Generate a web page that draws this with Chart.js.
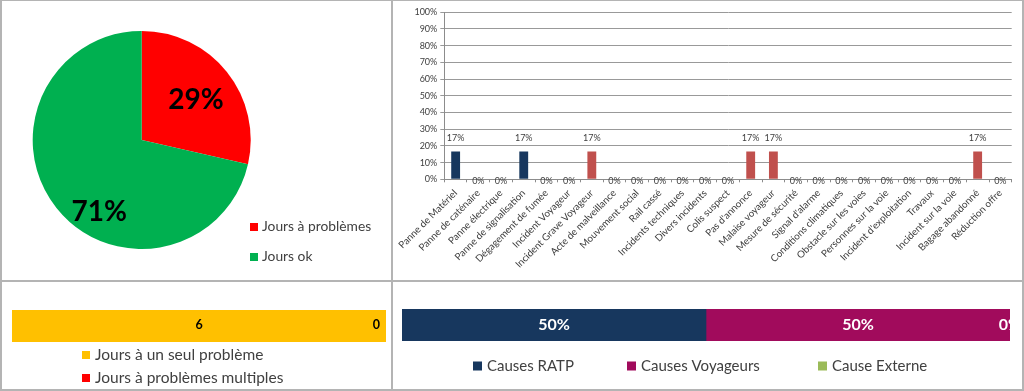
<!DOCTYPE html>
<html>
<head>
<meta charset="utf-8">
<script src="https://cdn.jsdelivr.net/npm/chart.js@4"></script>
<style>
  body { margin: 0; background: #fff; }
  #page { position: relative; width: 1024px; height: 391px; overflow: hidden; font-family: Lato, sans-serif; }
  canvas { position: absolute; }
  .line { position: absolute; background: #b4b4b4; }
</style>
</head>
<body>
<div id="page">
  <canvas id="pieChart" width="390" height="280" style="left:2px;top:0px"></canvas>
  <canvas id="causeChart" width="630" height="280" style="left:393px;top:0px"></canvas>
  <canvas id="daysChart" width="389" height="108" style="left:2px;top:282px"></canvas>
  <canvas id="groupChart" width="629" height="108" style="left:393px;top:282px"></canvas>

  <div class="line" style="left:0;top:0;width:1024px;height:1px"></div>
  <div class="line" style="left:0;top:0;width:2px;height:391px"></div>
  <div class="line" style="left:391px;top:0;width:2px;height:391px"></div>
  <div class="line" style="left:1022px;top:0;width:2px;height:391px"></div>
  <div class="line" style="left:0;top:280px;width:1024px;height:2px"></div>
  <div class="line" style="left:0;top:389px;width:1024px;height:2px"></div>
</div>

<script>
// jours du mois
var pieLabels = ['Jours à problèmes', 'Jours ok'];
var pieDays = [6, 15];
var pieColors = ['#FF0000', '#00B050'];

// répartition par cause (%)
var causeLabels = ['Panne de Matériel', 'Panne de caténaire', 'Panne électrique', 'Panne de signalisation',
  'Dégagement de fumée', 'Incident Voyageur', 'Incident Grave Voyageur', 'Acte de malveillance',
  'Mouvement social', 'Rail cassé', 'Incidents techniques', 'Divers incidents', 'Colis suspect',
  "Pas d'annonce", 'Malaise voyageur', 'Mesure de sécurité', "Signal d'alarme", 'Conditions climatiques',
  'Obstacle sur les voies', 'Personnes sur la voie', "Incident d'exploitation", 'Travaux',
  'Incident sur la voie', 'Bagage abandonné', 'Réduction offre'];
var causeValues = [16.7, 0, 0, 16.7, 0, 0, 16.7, 0, 0, 0, 0, 0, 0, 16.7, 16.7, 0, 0, 0, 0, 0, 0, 0, 0, 16.7, 0];
var causeGroupOf = ['R', 'R', 'R', 'R', 'R', 'V', 'V', 'V', 'R', 'R', 'R', 'R', 'V',
  'V', 'V', 'E', 'V', 'E', 'E', 'V', 'R', 'R', 'E', 'V', 'R'];
var yTicks = [0, 10, 20, 30, 40, 50, 60, 70, 80, 90, 100];

// jours à un seul / plusieurs problèmes
var dayLabels = ['Jours à un seul problème', 'Jours à problèmes multiples'];
var dayCounts = [6, 0];
var dayColors = ['#FFC000', '#FF0000'];

// causes RATP / voyageurs / externe (%)
var groupLabels = ['Causes RATP', 'Causes Voyageurs', 'Cause Externe'];
var groupValues = [50, 50, 0];
var groupColors = ['#17375E', '#A10B5C', '#9BBB59'];

var textColor = '#404040';

// petite légende à carrés, dessinée sur le canvas
var boxLegend = {
  id: 'boxLegend',
  afterDraw: function(chart, args, opts) {
    if (!opts.items) return;
    var ctx = chart.ctx;
    ctx.save();
    ctx.font = opts.font;
    ctx.textBaseline = 'middle';
    ctx.textAlign = 'left';
    opts.items.forEach(function(it) {
      ctx.fillStyle = it.color;
      ctx.fillRect(it.x, it.y - opts.box / 2, opts.box, opts.box);
      ctx.fillStyle = opts.color;
      ctx.fillText(it.text, it.x + opts.box + opts.gap, it.y);
    });
    ctx.restore();
  }
};

function legendItems(labels, colors, xs, ys) {
  return labels.map(function(l, i) {
    return { text: l, color: colors[i], x: xs[i], y: ys[i] };
  });
}

// ---------- camembert ----------
var pieTotal = pieDays.reduce(function(a, b) { return a + b; }, 0);

var pieLabelPlugin = {
  id: 'pieLabels',
  afterDatasetsDraw: function(chart, args, opts) {
    var ctx = chart.ctx;
    var meta = chart.getDatasetMeta(0);
    ctx.save();
    ctx.font = 'bold 28px Lato';
    ctx.fillStyle = '#000';
    ctx.textAlign = 'center';
    ctx.textBaseline = 'middle';
    meta.data.forEach(function(arc, i) {
      var p = arc.getProps(['x', 'y', 'startAngle', 'endAngle', 'outerRadius'], true);
      var a = (p.startAngle + p.endAngle) / 2 + opts.shift[i] * Math.PI / 180;
      var r = p.outerRadius * opts.dist[i];
      var txt = Math.round(pieDays[i] / pieTotal * 100) + '%';
      ctx.fillText(txt, p.x + r * Math.cos(a), p.y + r * Math.sin(a));
    });
    ctx.restore();
  }
};

new Chart(document.getElementById('pieChart'), {
  type: 'pie',
  data: {
    labels: pieLabels,
    datasets: [{ data: pieDays, backgroundColor: pieColors, borderWidth: 0 }]
  },
  options: {
    responsive: false,
    animation: false,
    layout: { padding: { left: 30.7, top: 31, right: 141.3, bottom: 31 } },
    plugins: {
      legend: { display: false },
      tooltip: { enabled: false },
      pieLabels: { dist: [0.62, 0.77], shift: [2, -21] },
      boxLegend: {
        font: '13.8px Lato', color: textColor, box: 8, gap: 4,
        items: legendItems(pieLabels, pieColors, [248, 248], [227, 257])
      }
    }
  },
  plugins: [pieLabelPlugin, boxLegend]
});

// ---------- histogramme des causes ----------
var barValueLabels = {
  id: 'barValueLabels',
  afterDatasetsDraw: function(chart) {
    var ctx = chart.ctx;
    var meta = chart.getDatasetMeta(0);
    ctx.save();
    ctx.font = '9px Lato';
    ctx.fillStyle = textColor;
    ctx.textAlign = 'center';
    meta.data.forEach(function(bar, i) {
      var v = causeValues[i];
      var txt = Math.round(v) + '%';
      if (v > 0) {
        ctx.textBaseline = 'bottom';
        ctx.fillText(txt, bar.x, bar.y - 9);
      } else {
        ctx.textBaseline = 'middle';
        ctx.fillText(txt, bar.x, bar.y + 2);
      }
    });
    ctx.restore();
  }
};

new Chart(document.getElementById('causeChart'), {
  type: 'bar',
  data: {
    labels: causeLabels,
    datasets: [{
      data: causeValues,
      backgroundColor: causeGroupOf.map(function(g) { return g == 'R' ? '#17375E' : '#C0504D'; }),
      borderWidth: 0,
      barPercentage: 0.39,
      categoryPercentage: 1
    }]
  },
  options: {
    responsive: false,
    animation: false,
    layout: { padding: { left: 0, top: 12.3, right: 11.3, bottom: 0 } },
    plugins: { legend: { display: false }, tooltip: { enabled: false } },
    scales: {
      x: {
        grid: { display: true, drawOnChartArea: false, drawTicks: true, tickLength: 3, color: '#8c8c8c', offset: true },
        border: { color: '#8c8c8c' },
        ticks: { autoSkip: false, maxRotation: 45, minRotation: 45, padding: 5, color: textColor, font: { family: 'Lato', size: 9.8 } },
        afterFit: function(scale) {
          scale.height = 100.7;
          scale.paddingLeft = 0;
          scale.paddingRight = 0;
        }
      },
      y: {
        min: 0,
        max: 100,
        afterBuildTicks: function(scale) {
          scale.ticks = yTicks.map(function(v) { return { value: v }; });
        },
        grid: { color: '#999', tickLength: 4 },
        border: { color: '#8c8c8c' },
        ticks: {
          padding: 3,
          color: textColor,
          font: { family: 'Lato', size: 9 },
          callback: function(v) { return v + '%'; }
        },
        afterFit: function(scale) { scale.width = 51.3; }
      }
    }
  },
  plugins: [barValueLabels]
});

// ---------- barres empilées horizontales ----------
var stackLabels = {
  id: 'stackLabels',
  afterDatasetsDraw: function(chart, args, opts) {
    var ctx = chart.ctx;
    var area = chart.chartArea;
    ctx.save();
    ctx.beginPath();
    ctx.rect(area.left, area.top, area.right - area.left, area.bottom - area.top);
    ctx.clip();
    ctx.font = opts.font;
    ctx.fillStyle = opts.color;
    ctx.textAlign = 'center';
    ctx.textBaseline = 'middle';
    chart.data.datasets.forEach(function(ds, i) {
      var bar = chart.getDatasetMeta(i).data[0];
      var txt = ds.data[0] + opts.suffix;
      var x = (bar.x + bar.base) / 2;
      if (opts.keepInside) {
        var w = ctx.measureText(txt).width;
        x = Math.min(x, area.right - w / 2 - 6);
      }
      ctx.fillText(txt, x, bar.y + opts.dy);
    });
    ctx.restore();
  }
};

function stackedDatasets(labels, values, colors) {
  return labels.map(function(l, i) {
    return { label: l, data: [values[i]], backgroundColor: colors[i], borderWidth: 0,
      barPercentage: 1, categoryPercentage: 1 };
  });
}

new Chart(document.getElementById('daysChart'), {
  type: 'bar',
  data: { labels: [''], datasets: stackedDatasets(dayLabels, dayCounts, dayColors) },
  options: {
    indexAxis: 'y',
    responsive: false,
    animation: false,
    layout: { padding: { left: 10, top: 28, right: 5, bottom: 48 } },
    scales: {
      x: { display: false, stacked: true, min: 0, max: dayCounts.reduce(function(a, b) { return a + b; }, 0) },
      y: { display: false, stacked: true }
    },
    plugins: {
      legend: { display: false },
      tooltip: { enabled: false },
      stackLabels: { font: 'bold 12.5px Lato', color: '#000', suffix: '', keepInside: true, dy: -1 },
      boxLegend: {
        font: '15.5px Lato', color: textColor, box: 8, gap: 5,
        items: legendItems(dayLabels, dayColors, [80, 80], [73, 96])
      }
    }
  },
  plugins: [stackLabels, boxLegend]
});

new Chart(document.getElementById('groupChart'), {
  type: 'bar',
  data: { labels: [''], datasets: stackedDatasets(groupLabels, groupValues, groupColors) },
  options: {
    indexAxis: 'y',
    responsive: false,
    animation: false,
    layout: { padding: { left: 9, top: 27, right: 12, bottom: 49 } },
    scales: {
      x: { display: false, stacked: true, min: 0, max: 100 },
      y: { display: false, stacked: true }
    },
    plugins: {
      legend: { display: false },
      tooltip: { enabled: false },
      stackLabels: { font: 'bold 16px Lato', color: '#fff', suffix: '%', keepInside: false, dy: 0 },
      boxLegend: {
        font: '15px Lato', color: textColor, box: 9, gap: 5,
        items: legendItems(groupLabels, groupColors, [80, 234, 425], [84, 84, 84])
      }
    }
  },
  plugins: [stackLabels, boxLegend]
});
</script>
</body>
</html>
